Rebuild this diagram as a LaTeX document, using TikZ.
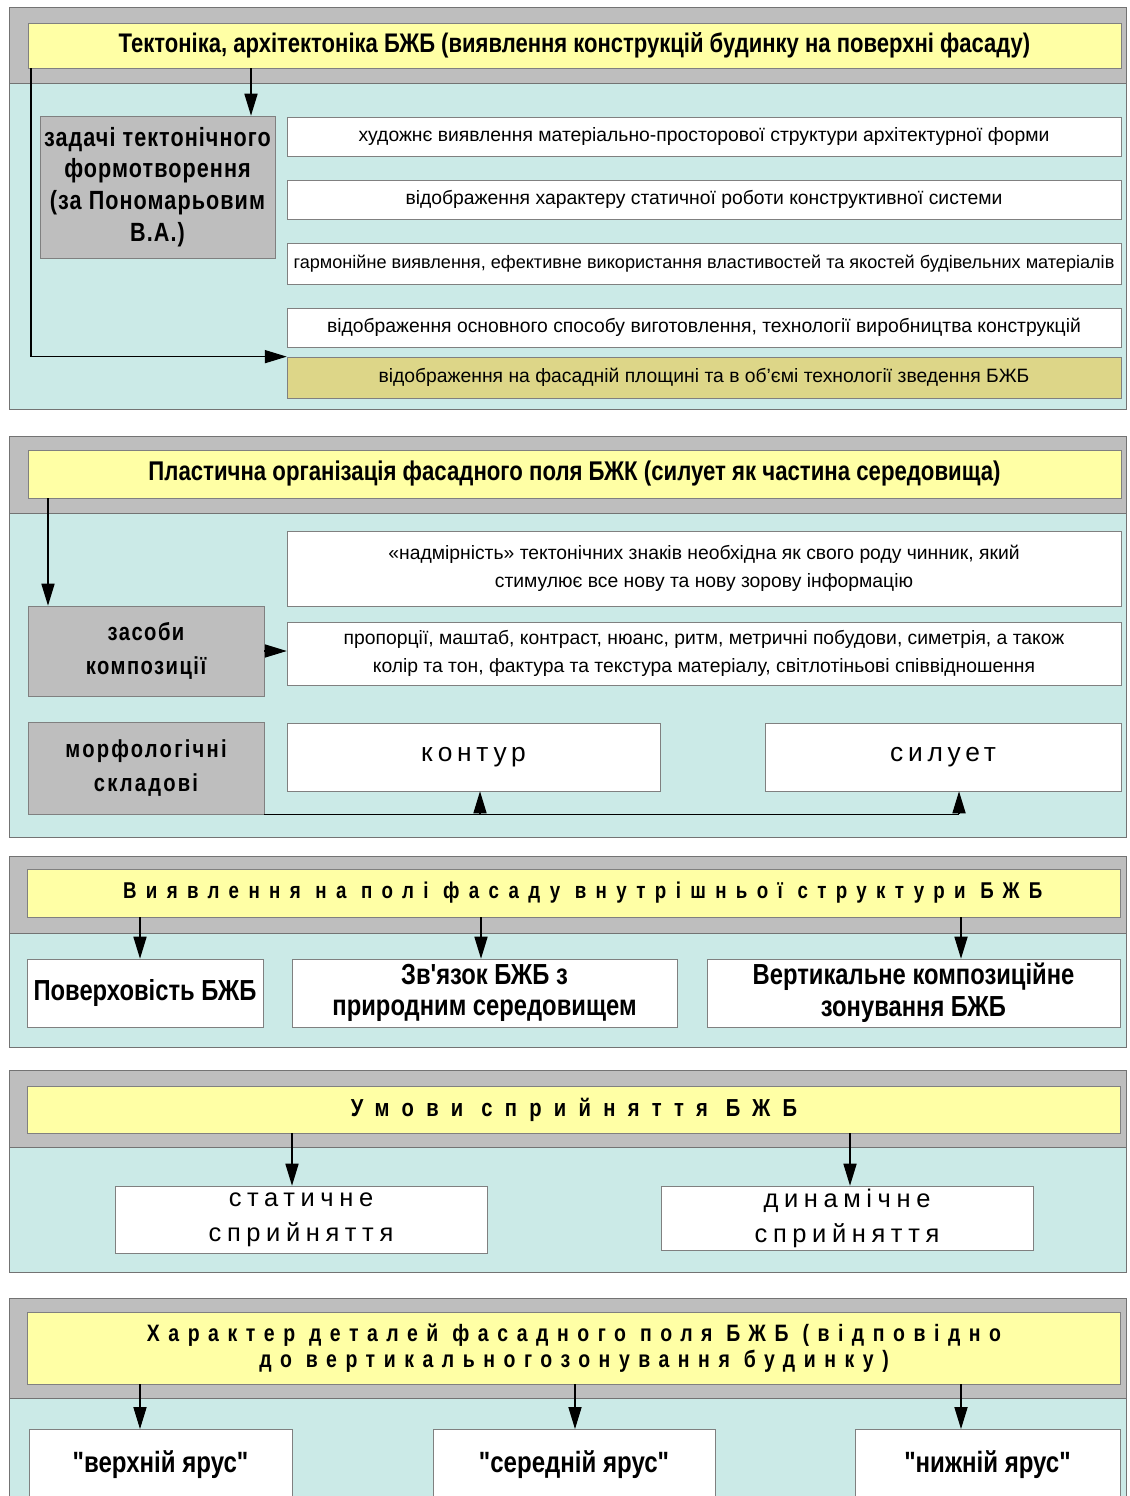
\documentclass[tikz,border=0pt]{standalone}
\usepackage{fontspec}
\setmainfont{Liberation Sans}
\newfontfamily\narrowfont[FakeStretch=0.82]{Liberation Sans}
\usetikzlibrary{arrows.meta}

\definecolor{bandgrey}{RGB}{190,190,190}
\definecolor{panelcyan}{RGB}{203,234,231}
\definecolor{titleyellow}{RGB}{255,255,165}
\definecolor{boxgrey}{RGB}{190,190,190}
\definecolor{olivefill}{RGB}{221,214,136}

\tikzset{
  titlebar/.style={draw=black!50, fill=titleyellow, minimum width=21.86cm, inner sep=0pt, align=center},
  whitebox/.style={draw=black!50, fill=white, inner sep=0pt, align=center, font=\fontsize{11}{16}\selectfont},
  greybox/.style={draw=black!50, fill=boxgrey, inner sep=0pt, align=center, font=\narrowfont\bfseries\fontsize{15}{18}\selectfont\addfontfeature{LetterSpace=4}},
  boldbox/.style={draw=black!50, fill=white, inner sep=0pt, align=center, font=\narrowfont\bfseries\fontsize{16.5}{18}\selectfont},
  spacedbox/.style={draw=black!50, fill=white, inner sep=0pt, align=center, font=\fontsize{14.5}{20}\selectfont\addfontfeature{LetterSpace=22}},
  arr/.style={-{Triangle[length=12.5pt,width=7.5pt]}, line width=0.6pt},
  rail/.style={line width=0.6pt},
}

\begin{document}
\begin{tikzpicture}[x=0.02cm, y=-0.02cm]
\useasboundingbox (0,0) rectangle (1129,1496);
\clip (0,0) rectangle (1129,1496);
\fill[white] (0,0) rectangle (1129,1496);

% panels: grey band on top, cyan field below
\foreach \top/\mid/\bot in {7/83/409, 436/513/837, 856/933/1047, 1070/1147/1272, 1298/1398/1520} {
  \fill[bandgrey] (9,\top) rectangle (1126,\mid);
  \fill[panelcyan] (9,\mid) rectangle (1126,\bot);
  \draw[black!55] (9,\top) rectangle (1126,\bot) (9,\mid) -- (1126,\mid);
}

% tectonics
\node[titlebar, minimum height=0.9cm, font=\narrowfont\bfseries\fontsize{15.3}{16}\selectfont] (tect) at (574.5,45.5) {Тектоніка, архітектоніка БЖБ (виявлення конструкцій будинку на поверхні фасаду)};
\node[greybox, minimum width=4.7cm, minimum height=2.84cm] (tasks) at (157.5,187) {задачі тектонічного\\формотворення\\(за Пономарьовим\\В.А.)};
\node[whitebox, minimum width=16.68cm, minimum height=0.78cm] (art) at (704,136.5) {художнє виявлення матеріально-просторової структури архітектурної форми};
\node[whitebox, minimum width=16.68cm, minimum height=0.78cm] (statics) at (704,199.5) {відображення характеру статичної роботи конструктивної системи};
\node[whitebox, minimum width=16.68cm, minimum height=0.82cm, font=\fontsize{10.3}{12}\selectfont] (materials) at (704,263.5) {гармонійне виявлення, ефективне використання властивостей та якостей будівельних матеріалів};
\node[whitebox, minimum width=16.68cm, minimum height=0.78cm] (making) at (704,327.5) {відображення основного способу виготовлення, технології виробництва конструкцій};
\node[whitebox, fill=olivefill, minimum width=16.68cm, minimum height=0.82cm] (erect) at (704,377.5) {відображення на фасадній площині та в об'ємі технології зведення БЖБ};
\coordinate (tasksx) at (251,0);
\coordinate (leftx) at (31,0);
\draw[arr] (tect.south -| tasksx) -- (tasks.north -| tasksx);
\draw[arr] (tect.south -| leftx) |- (erect.north west);

% plastic organisation
\node[titlebar, minimum height=0.96cm, font=\narrowfont\bfseries\fontsize{15.4}{16}\selectfont] (plast) at (574.5,474) {Пластична організація фасадного поля БЖК (силует як частина середовища)};
\node[whitebox, minimum width=16.68cm, minimum height=1.5cm] (excess) at (704,568.5) {«надмірність» тектонічних знаків необхідна як свого роду чинник, який\\стимулює все нову та нову зорову інформацію};
\node[whitebox, minimum width=16.68cm, minimum height=1.26cm] (means) at (704,653.5) {пропорції, маштаб, контраст, нюанс, ритм, метричні побудови, симетрія, а також\\колір та тон, фактура та текстура матеріалу, світлотіньові співвідношення};
\node[greybox, minimum width=4.72cm, minimum height=1.8cm, font=\narrowfont\bfseries\fontsize{14}{19}\selectfont\addfontfeature{LetterSpace=6}] (compos) at (146,651) {засоби\\композиції};
\node[greybox, minimum width=4.72cm, minimum height=1.84cm, font=\narrowfont\bfseries\fontsize{14}{19}\selectfont\addfontfeature{LetterSpace=9}] (morph) at (146,768) {морфологічні\\складові};
\node[spacedbox, minimum width=7.46cm, minimum height=1.36cm, font=\fontsize{15}{18}\selectfont\addfontfeature{LetterSpace=18}] (contour) at (473.5,757) {контур};
\node[spacedbox, minimum width=7.12cm, minimum height=1.36cm, font=\fontsize{15}{18}\selectfont\addfontfeature{LetterSpace=18}] (silh) at (943,757) {силует};
\coordinate (compx) at (48,0);
\coordinate (contx) at (480,0);
\coordinate (silx) at (959,0);
\draw[arr] (plast.south -| compx) -- (compos.north -| compx);
\draw[arr] (compos.east) -- (compos.east -| means.west);
\draw[rail] (morph.south east) -- (morph.south east -| silx);
\draw[arr] (morph.south -| contx) -- (contour.south -| contx);
\draw[arr] (morph.south -| silx) -- (silh.south -| silx);

% inner structure
\node[titlebar, minimum height=0.96cm, font=\narrowfont\bfseries\fontsize{13}{16}\selectfont\addfontfeature{LetterSpace=41}] (inner) at (574,893) {\hspace*{0.35cm}Виявлення на полі фасаду внутрішньої структури БЖБ};
\node[boldbox, minimum width=4.72cm, minimum height=1.36cm, font=\narrowfont\bfseries\fontsize{16.5}{18}\selectfont] (surf) at (145,993) {Поверховість БЖБ};
\node[boldbox, minimum width=7.7cm, minimum height=1.36cm] (nature) at (484.5,993) {Зв'язок БЖБ з\\природним середовищем};
\node[boldbox, minimum width=8.26cm, minimum height=1.36cm] (zoning) at (913.5,993) {Вертикальне композиційне\\зонування БЖБ};
\foreach \x/\b in {140/surf, 481/nature, 961/zoning} {
  \coordinate (drop) at (\x,0);
  \draw[arr] (inner.south -| drop) -- (\b.north -| drop);
}

% perception
\node[titlebar, minimum height=0.94cm, font=\narrowfont\bfseries\fontsize{14}{16}\selectfont\addfontfeature{LetterSpace=50}] (percep) at (574,1109.5) {Умови сприйняття БЖБ};
\node[spacedbox, minimum width=7.44cm, minimum height=1.34cm] (static) at (301,1219.5) {статичне\\сприйняття};
\node[spacedbox, minimum width=7.44cm, minimum height=1.28cm] (dynamic) at (847,1218) {динамічне\\сприйняття};
\foreach \x/\b in {292/static, 850/dynamic} {
  \coordinate (drop) at (\x,0);
  \draw[arr] (percep.south -| drop) -- (\b.north -| drop);
}

% details
\node[titlebar, minimum height=1.44cm, font=\narrowfont\bfseries\fontsize{13.5}{15}\selectfont\addfontfeature{LetterSpace=36}] (detail) at (574,1348) {Характер деталей фасадного поля БЖБ (відповідно\\до вертикальногозонування будинку)};
\node[boldbox, anchor=north, minimum width=5.26cm, minimum height=1.4cm, font=\narrowfont\bfseries\fontsize{16.7}{18}\selectfont] (upper) at (160.5,1429) {"верхній ярус"};
\node[boldbox, anchor=north, minimum width=5.64cm, minimum height=1.4cm, font=\narrowfont\bfseries\fontsize{16.7}{18}\selectfont] (middle) at (574,1429) {"середній ярус"};
\node[boldbox, anchor=north, minimum width=5.3cm, minimum height=1.4cm, font=\narrowfont\bfseries\fontsize{16.7}{18}\selectfont] (lower) at (987.5,1429) {"нижній ярус"};
\foreach \x/\b in {140/upper, 575/middle, 961/lower} {
  \coordinate (drop) at (\x,0);
  \draw[arr] (detail.south -| drop) -- (\b.north -| drop);
}
\end{tikzpicture}
\end{document}
